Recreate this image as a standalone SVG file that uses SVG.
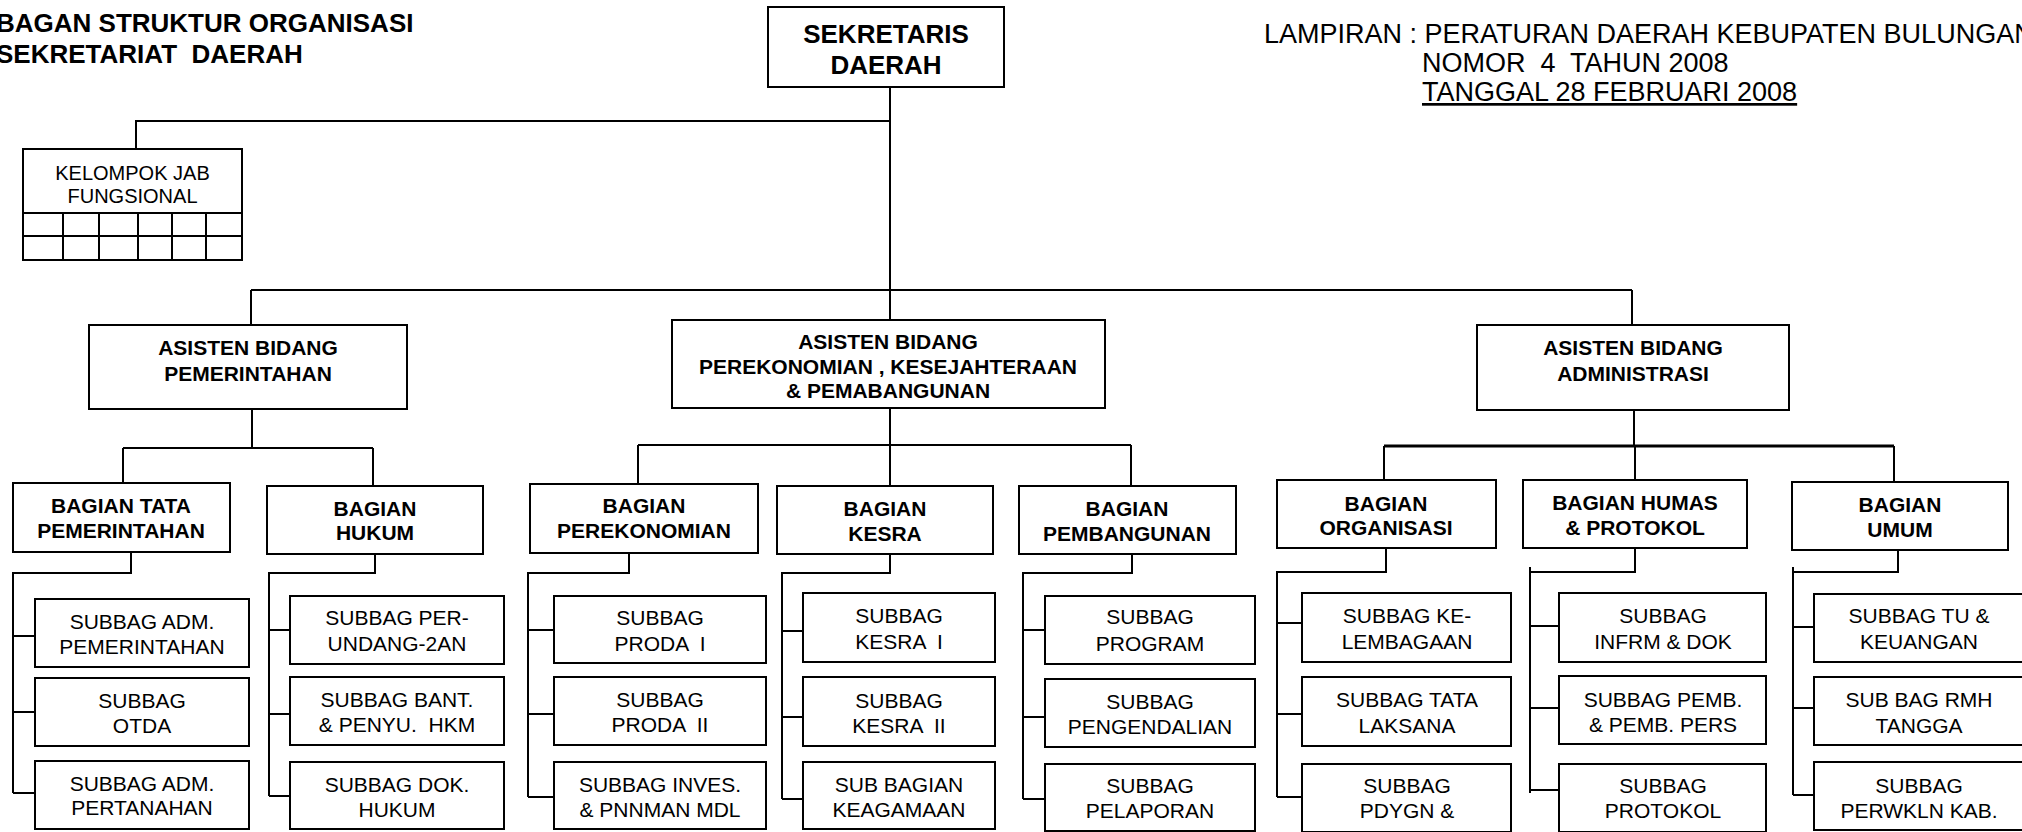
<svg xmlns="http://www.w3.org/2000/svg" width="2022" height="832" viewBox="0 0 2022 832" xml:space="preserve">
<style>
.bx{fill:#fff;stroke:#000;stroke-width:2}
.t{font-family:"Liberation Sans",Arial,sans-serif;fill:#000;white-space:pre}
.m{text-anchor:middle}
.b{font-weight:bold;font-size:21px}
.r{font-size:21px}
.c{fill:none;stroke:#000;stroke-width:2}
.ck{fill:none;stroke:#000;stroke-width:3}
</style>
<rect x="0" y="0" width="2022" height="832" fill="#fff"/>
<g id="header">
<text class="t" x="-4" y="32" font-size="26" font-weight="bold">BAGAN STRUKTUR ORGANISASI</text>
<text class="t" x="-4" y="63" font-size="26" font-weight="bold">SEKRETARIAT  DAERAH</text>
<text class="t" x="1264" y="43" font-size="27">LAMPIRAN : PERATURAN DAERAH KEBUPATEN BULUNGAN</text>
<text class="t" x="1422" y="72" font-size="27">NOMOR  4  TAHUN 2008</text>
<text class="t" x="1422" y="101" font-size="27" text-decoration="underline">TANGGAL 28 FEBRUARI 2008</text>
</g>
<g id="connectors">
<path class="c" d="M890 87V320M890 121H136V149"/>
<path class="c" d="M251 290H1632M251 290V325M1632 290V325"/>
<path class="c" d="M252 409V448M123 448H373M123 448V483M373 448V486"/>
<path class="c" d="M890 408V486M638 445H1131M638 445V484M1131 445V486"/>
<path class="c" d="M1634 410V446M1384 446V480M1635 446V480M1894 446V482"/>
<path class="ck" d="M1384 446H1894"/>
<path class="c" d="M131 552V573H13V793M13 636H35M13 712H35M13 793H35"/>
<path class="c" d="M375 554V573H269V796M269 630H290M269 714H290M269 796H290"/>
<path class="c" d="M629 553V573H528V797M528 630H554M528 714H554M528 797H554"/>
<path class="c" d="M890 554V573H782V799M782 631H803M782 717H803M782 799H803"/>
<path class="c" d="M1132 554V573H1023V799M1023 630H1045M1023 717H1045M1023 799H1045"/>
<path class="c" d="M1386 548V572H1277V797M1277 623H1302M1277 714H1302M1277 797H1302"/>
<path class="c" d="M1635 548V572H1530V793M1530 567V572M1530 626H1559M1530 708H1559M1530 790H1559"/>
<path class="c" d="M1898 550V572H1793V795M1793 567V572M1793 627H1814M1793 708H1814M1793 795H1814"/>
</g>
<g id="kelompok">
<rect class="bx" x="23" y="149" width="219" height="111"/>
<path class="c" d="M23 213H242M23 236H242M63 213V260M99 213V260M138 213V260M172 213V260M206 213V260"/>
<text class="t m" x="132.5" y="180" font-size="20">KELOMPOK JAB</text>
<text class="t m" x="132.5" y="203" font-size="20">FUNGSIONAL</text>
</g>
<g id="sekda">
<rect class="bx" x="768" y="7" width="236" height="80"/>
<text class="t m" x="886" y="43" font-size="26" font-weight="bold">SEKRETARIS</text>
<text class="t m" x="886" y="74" font-size="26" font-weight="bold">DAERAH</text>
</g>
<g id="asisten-pemerintahan">
<rect class="bx" x="89" y="325" width="318" height="84"/>
<text class="t m b" x="248" y="355">ASISTEN BIDANG</text>
<text class="t m b" x="248" y="381">PEMERINTAHAN</text>
</g>
<g id="asisten-perekonomian">
<rect class="bx" x="672" y="320" width="433" height="88"/>
<text class="t m b" x="888" y="349">ASISTEN BIDANG</text>
<text class="t m b" x="888" y="374">PEREKONOMIAN , KESEJAHTERAAN</text>
<text class="t m b" x="888" y="398">&amp; PEMABANGUNAN</text>
</g>
<g id="asisten-administrasi">
<rect class="bx" x="1477" y="325" width="312" height="85"/>
<text class="t m b" x="1633" y="355">ASISTEN BIDANG</text>
<text class="t m b" x="1633" y="381">ADMINISTRASI</text>
</g>
<g id="bagian-tata-pemerintahan">
<rect class="bx" x="13" y="483" width="217" height="69"/>
<text class="t m b" x="121" y="513">BAGIAN TATA</text>
<text class="t m b" x="121" y="538">PEMERINTAHAN</text>
</g>
<g id="bagian-hukum">
<rect class="bx" x="267" y="486" width="216" height="68"/>
<text class="t m b" x="375" y="516">BAGIAN</text>
<text class="t m b" x="375" y="540">HUKUM</text>
</g>
<g id="bagian-perekonomian">
<rect class="bx" x="530" y="484" width="228" height="69"/>
<text class="t m b" x="644" y="513">BAGIAN</text>
<text class="t m b" x="644" y="538">PEREKONOMIAN</text>
</g>
<g id="bagian-kesra">
<rect class="bx" x="777" y="486" width="216" height="68"/>
<text class="t m b" x="885" y="516">BAGIAN</text>
<text class="t m b" x="885" y="541">KESRA</text>
</g>
<g id="bagian-pembangunan">
<rect class="bx" x="1019" y="486" width="217" height="68"/>
<text class="t m b" x="1127" y="516">BAGIAN</text>
<text class="t m b" x="1127" y="541">PEMBANGUNAN</text>
</g>
<g id="bagian-organisasi">
<rect class="bx" x="1277" y="480" width="219" height="68"/>
<text class="t m b" x="1386" y="511">BAGIAN</text>
<text class="t m b" x="1386" y="535">ORGANISASI</text>
</g>
<g id="bagian-humas">
<rect class="bx" x="1523" y="480" width="224" height="68"/>
<text class="t m b" x="1635" y="510">BAGIAN HUMAS</text>
<text class="t m b" x="1635" y="535">&amp; PROTOKOL</text>
</g>
<g id="bagian-umum">
<rect class="bx" x="1792" y="482" width="216" height="68"/>
<text class="t m b" x="1900" y="512">BAGIAN</text>
<text class="t m b" x="1900" y="537">UMUM</text>
</g>
<g id="subbag-adm-pemerintahan">
<rect class="bx" x="35" y="599" width="214" height="68"/>
<text class="t m r" x="142" y="629">SUBBAG ADM.</text>
<text class="t m r" x="142" y="654">PEMERINTAHAN</text>
</g>
<g id="subbag-otda">
<rect class="bx" x="35" y="678" width="214" height="68"/>
<text class="t m r" x="142" y="708">SUBBAG</text>
<text class="t m r" x="142" y="733">OTDA</text>
</g>
<g id="subbag-adm-pertanahan">
<rect class="bx" x="35" y="761" width="214" height="68"/>
<text class="t m r" x="142" y="791">SUBBAG ADM.</text>
<text class="t m r" x="142" y="815">PERTANAHAN</text>
</g>
<g id="subbag-perundangan">
<rect class="bx" x="290" y="596" width="214" height="68"/>
<text class="t m r" x="397" y="625">SUBBAG PER-</text>
<text class="t m r" x="397" y="651">UNDANG-2AN</text>
</g>
<g id="subbag-bantuan-hukum">
<rect class="bx" x="290" y="677" width="214" height="68"/>
<text class="t m r" x="397" y="707">SUBBAG BANT.</text>
<text class="t m r" x="397" y="732">&amp; PENYU.  HKM</text>
</g>
<g id="subbag-dok-hukum">
<rect class="bx" x="290" y="762" width="214" height="67"/>
<text class="t m r" x="397" y="792">SUBBAG DOK.</text>
<text class="t m r" x="397" y="817">HUKUM</text>
</g>
<g id="subbag-proda-1">
<rect class="bx" x="554" y="596" width="212" height="67"/>
<text class="t m r" x="660" y="625">SUBBAG</text>
<text class="t m r" x="660" y="651">PRODA  I</text>
</g>
<g id="subbag-proda-2">
<rect class="bx" x="554" y="677" width="212" height="68"/>
<text class="t m r" x="660" y="707">SUBBAG</text>
<text class="t m r" x="660" y="732">PRODA  II</text>
</g>
<g id="subbag-inves">
<rect class="bx" x="554" y="762" width="212" height="67"/>
<text class="t m r" x="660" y="792">SUBBAG INVES.</text>
<text class="t m r" x="660" y="817">&amp; PNNMAN MDL</text>
</g>
<g id="subbag-kesra-1">
<rect class="bx" x="803" y="593" width="192" height="69"/>
<text class="t m r" x="899" y="623">SUBBAG</text>
<text class="t m r" x="899" y="649">KESRA  I</text>
</g>
<g id="subbag-kesra-2">
<rect class="bx" x="803" y="677" width="192" height="69"/>
<text class="t m r" x="899" y="708">SUBBAG</text>
<text class="t m r" x="899" y="733">KESRA  II</text>
</g>
<g id="subbag-keagamaan">
<rect class="bx" x="803" y="762" width="192" height="67"/>
<text class="t m r" x="899" y="792">SUB BAGIAN</text>
<text class="t m r" x="899" y="817">KEAGAMAAN</text>
</g>
<g id="subbag-program">
<rect class="bx" x="1045" y="596" width="210" height="68"/>
<text class="t m r" x="1150" y="624">SUBBAG</text>
<text class="t m r" x="1150" y="651">PROGRAM</text>
</g>
<g id="subbag-pengendalian">
<rect class="bx" x="1045" y="679" width="210" height="68"/>
<text class="t m r" x="1150" y="709">SUBBAG</text>
<text class="t m r" x="1150" y="734">PENGENDALIAN</text>
</g>
<g id="subbag-pelaporan">
<rect class="bx" x="1045" y="764" width="210" height="67"/>
<text class="t m r" x="1150" y="793">SUBBAG</text>
<text class="t m r" x="1150" y="818">PELAPORAN</text>
</g>
<g id="subbag-kelembagaan">
<rect class="bx" x="1302" y="593" width="209" height="69"/>
<text class="t m r" x="1407" y="623">SUBBAG KE-</text>
<text class="t m r" x="1407" y="649">LEMBAGAAN</text>
</g>
<g id="subbag-tata-laksana">
<rect class="bx" x="1302" y="677" width="209" height="69"/>
<text class="t m r" x="1407" y="707">SUBBAG TATA</text>
<text class="t m r" x="1407" y="733">LAKSANA</text>
</g>
<g id="subbag-pdygn">
<rect class="bx" x="1302" y="764" width="209" height="68"/>
<text class="t m r" x="1407" y="793">SUBBAG</text>
<text class="t m r" x="1407" y="818">PDYGN &amp;</text>
</g>
<g id="subbag-infrm-dok">
<rect class="bx" x="1559" y="593" width="207" height="69"/>
<text class="t m r" x="1663" y="623">SUBBAG</text>
<text class="t m r" x="1663" y="649">INFRM &amp; DOK</text>
</g>
<g id="subbag-pemb-pers">
<rect class="bx" x="1559" y="676" width="207" height="68"/>
<text class="t m r" x="1663" y="707">SUBBAG PEMB.</text>
<text class="t m r" x="1663" y="732">&amp; PEMB. PERS</text>
</g>
<g id="subbag-protokol">
<rect class="bx" x="1559" y="764" width="207" height="68"/>
<text class="t m r" x="1663" y="793">SUBBAG</text>
<text class="t m r" x="1663" y="818">PROTOKOL</text>
</g>
<g id="subbag-tu-keuangan">
<rect class="bx" x="1814" y="594" width="210" height="68"/>
<text class="t m r" x="1919" y="623">SUBBAG TU &amp;</text>
<text class="t m r" x="1919" y="649">KEUANGAN</text>
</g>
<g id="subbag-rmh-tangga">
<rect class="bx" x="1814" y="677" width="210" height="68"/>
<text class="t m r" x="1919" y="707">SUB BAG RMH</text>
<text class="t m r" x="1919" y="733">TANGGA</text>
</g>
<g id="subbag-perwkln">
<rect class="bx" x="1814" y="762" width="210" height="68"/>
<text class="t m r" x="1919" y="793">SUBBAG</text>
<text class="t m r" x="1919" y="818">PERWKLN KAB.</text>
</g>
</svg>
